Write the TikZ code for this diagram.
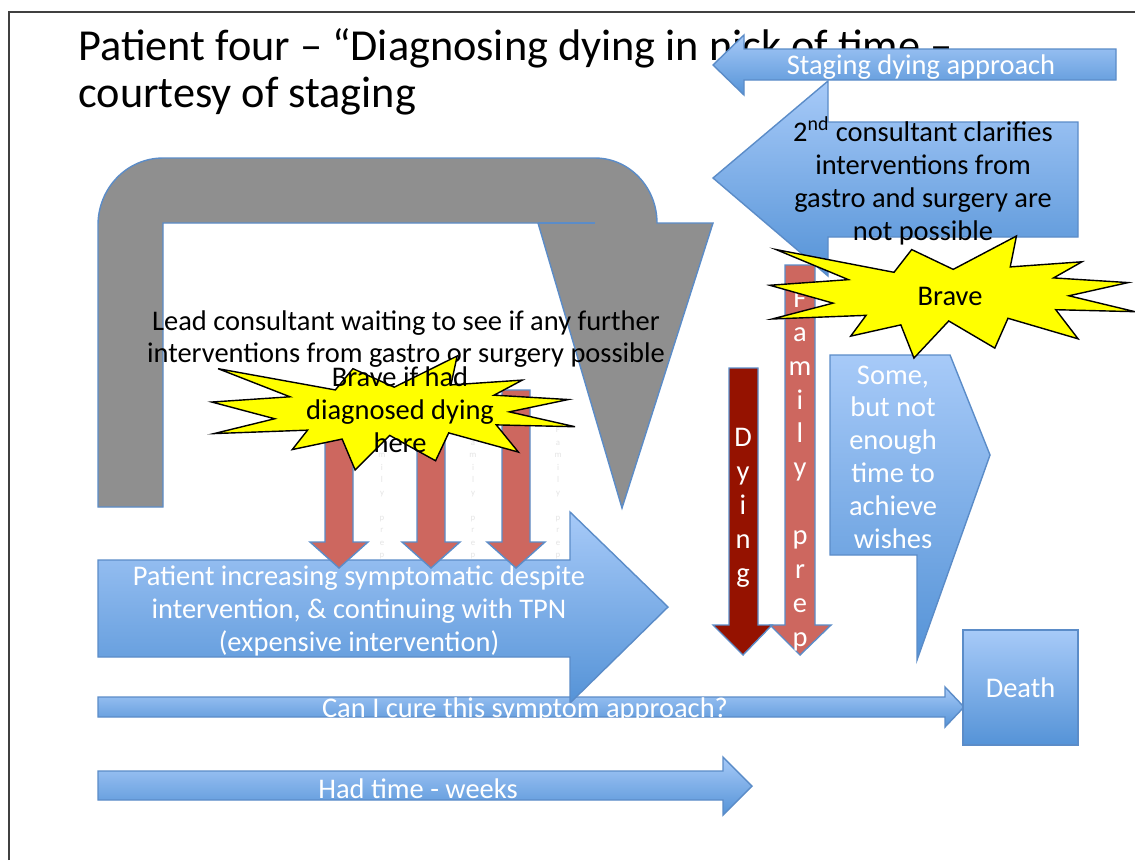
\documentclass[tikz,border=0pt]{standalone}
\usepackage{fontspec}
\setmainfont{Carlito}
\definecolor{boxtop}{HTML}{A7CAF8}
\definecolor{boxbot}{HTML}{5593D7}
\definecolor{boxline}{HTML}{5B8CC8}
\definecolor{salmon}{HTML}{CD675F}
\definecolor{darkred}{HTML}{951200}
\definecolor{greyarrow}{HTML}{8F8F8F}
\definecolor{burstyellow}{HTML}{FFFF00}
% explosion outline, 216 x 216 units
\newcommand{\burstpath}{(109.01,59.05) -- (84.58,23.99) -- (74.17,64.25) -- (4.76,23.99) -- (47.32,77.22) -- (1.06,87.18) -- (38.28,118.80) -- (2.43,146.89) -- (57.72,140.41) -- (48.68,177.19) -- (78.19,157.30) -- (85.90,216) -- (106.37,150.38) -- (133.49,198.40) -- (141.25,145.61) -- (182.48,181.95) -- (169.38,130.44) -- (216,133.93) -- (177.10,105.79) -- (211.98,82.42) -- (168.06,74.17) -- (184.82,45.60) -- (142.57,54.70) -- (146.23,0) -- cycle}
\begin{document}
\begin{tikzpicture}[x=0.02cm,y=-0.02cm,
  bluearrow/.style={draw=boxline,line width=0.8pt,top color=boxtop,bottom color=boxbot},
  redarrow/.style={draw=boxline,line width=0.8pt,fill=salmon},
  burst/.style={draw=black,line width=0.8pt,fill=burstyellow},
  body/.style={font=\fontsize{16.2}{18.7}\selectfont,align=center,inner sep=0pt},
  whitetext/.style={body,text=white},
  stack/.style={font=\fontsize{16.2}{19.3}\selectfont,align=center,inner sep=0pt,text=white},
  ghost/.style={font=\fontsize{5}{7.1}\selectfont,align=center,inner sep=0pt,text=black!10}]
  \useasboundingbox[fill=white] (0,0) rectangle (1135,860);
  \draw[black!75,line width=0.6pt] (9,860) -- (9,12) -- (1135,12);

  \node[font=\fontsize{25.2}{26.6}\selectfont,align=left,anchor=north west,inner sep=0pt] (title) at (78,28)
    {Patient four -- “Diagnosing dying in nick of time --\\courtesy of staging};

  % waiting loop
  \draw[draw=boxline,line width=0.8pt,fill=greyarrow] (98,507) -- (98,225)
    arc[start angle=180,end angle=270,x radius=65,y radius=67] -- (595,158)
    arc[start angle=270,end angle=360,x radius=62,y radius=65] -- (713,223)
    -- (622,508) -- (538,223) -- (163,223) -- (163,507) -- cycle;
  \draw[boxline,line width=0.8pt] (538,223) -- (595,223);
  \node[body] (leadtext) at (406,339)
    {Lead consultant waiting to see if any further\\interventions from gastro or surgery possible};

  % timeline arrows
  \draw[bluearrow] (98,697) -- (945,697) -- (945,687) -- (964,707) -- (945,727) -- (945,717) -- (98,717) -- cycle;
  \draw[bluearrow] (98,560) -- (570,560) -- (570,512) -- (668,607) -- (570,703) -- (570,657) -- (98,657) -- cycle;
  \draw[bluearrow] (98,771) -- (723,771) -- (723,757) -- (752,786) -- (723,815) -- (723,800) -- (98,800) -- cycle;
  \node[whitetext] (patienttext) at (359,611)
    {Patient increasing symptomatic despite\\intervention, \& continuing with TPN\\(expensive intervention)};
  \node[whitetext] (curetext) at (525,710) {Can I cure this symptom approach?};
  \node[whitetext] (weekstext) at (418,789) {Had time - weeks};
  \node[bluearrow,minimum width=2.3cm,minimum height=2.3cm,text=white,font=\fontsize{16.2}{18.7}\selectfont] (death) at (1020.5,687.5) {Death};

  % missed chances
  \foreach \cx in {339,431,516}
    \draw[redarrow] (\cx-14,390) -- (\cx+14,390) -- (\cx+14,542) -- (\cx+29,542)
      -- (\cx,568) -- (\cx-29,542) -- (\cx-14,542) -- cycle;
  \foreach \gx in {382,473,558}
    \node[ghost] at (\gx,493) {F\\a\\m\\i\\l\\y\\\mbox{}\\p\\r\\e\\p};
  \begin{scope}[shift={(210,356)},xscale=1.69,yscale=0.528]
    \draw[burst] \burstpath;
  \end{scope}
  \node[body] (bravehere) at (400,410) {Brave if had\\diagnosed dying\\here};

  % staging side
  \draw[redarrow] (785,265) -- (815,265) -- (815,625) -- (831,625) -- (800,655) -- (770,625) -- (785,625) -- cycle;
  \draw[redarrow,fill=darkred] (729,368) -- (758,368) -- (758,625) -- (772,625) -- (743,655) -- (713,625) -- (729,625) -- cycle;
  \node[stack] (familytext) at (800,470) {F\\a\\m\\i\\l\\y\\\mbox{}\\p\\r\\e\\p};
  \node[stack] (dyingtext) at (743,508) {D\\y\\i\\n\\g};
  \draw[bluearrow] (830,355) -- (950,355) -- (990,455) -- (917,660) -- (917,555) -- (830,555) -- cycle;
  \node[whitetext] (sometext) at (893,457) {Some,\\but not\\enough\\time to\\achieve\\wishes};

  \draw[bluearrow] (1116,49) -- (744,49) -- (744,35) -- (713,65) -- (744,95) -- (744,80) -- (1116,80) -- cycle;
  \node[whitetext] (stagetext) at (921,67) {Staging dying approach};
  \draw[bluearrow] (1078,122) -- (828,122) -- (828,81) -- (713,178) -- (828,276) -- (828,237) -- (1078,237) -- cycle;
  \node[body] (consulttext) at (923,181)
    {2\textsuperscript{nd} consultant clarifies\\interventions from\\gastro and surgery are\\not possible};
  \begin{scope}[shift={(768,236)},xscale=1.699,yscale=0.565]
    \draw[burst] \burstpath;
  \end{scope}
  \node[body] (bravetext) at (950,296) {Brave};
\end{tikzpicture}
\end{document}
